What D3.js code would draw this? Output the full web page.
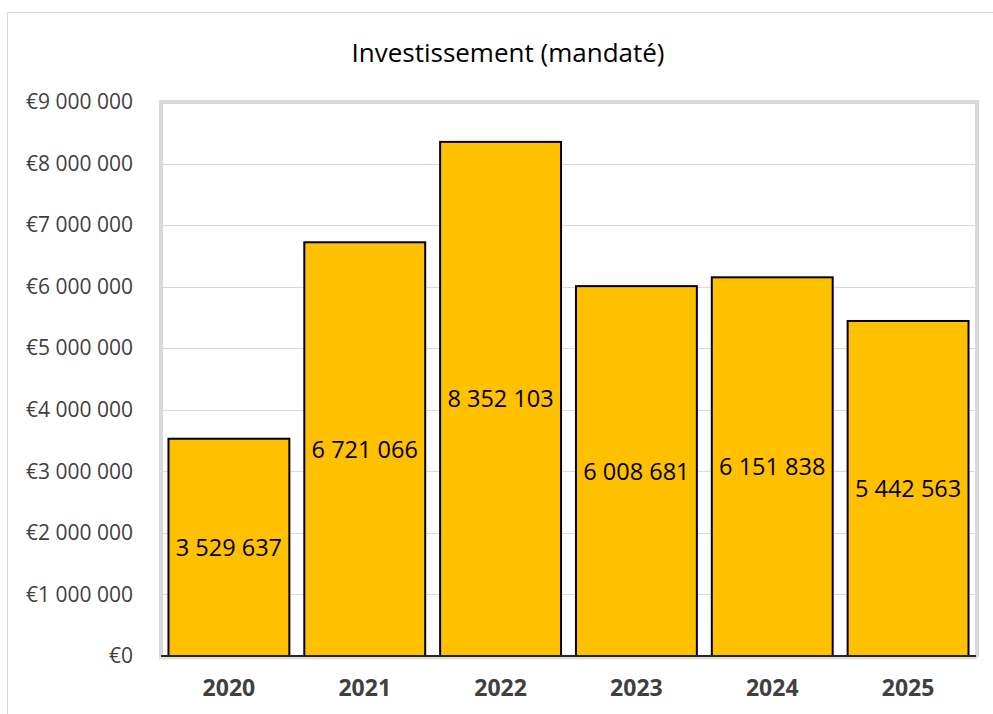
<!DOCTYPE html>
<html>
<head>
<meta charset="utf-8">
<script src="https://cdn.jsdelivr.net/npm/d3@7"></script>
<style>
  body { margin: 0; background: #fff; }
  svg { display: block; font-family: "Open Sans", "Noto Sans", sans-serif; }
</style>
</head>
<body>
<svg id="chart" width="993" height="714"></svg>
<script>
const years = ['2020', '2021', '2022', '2023', '2024', '2025'];
const amounts = [3529637, 6721066, 8352103, 6008681, 6151838, 5442563];
const yTicks = [0, 1000000, 2000000, 3000000, 4000000, 5000000, 6000000, 7000000, 8000000, 9000000];
const title = 'Investissement (mandaté)';

const width = 993;
const height = 714;
const plot = { left: 161, right: 977, top: 102, bottom: 656 };

const svg = d3.select('#chart');

// outer chart frame (cut at the right/bottom edges)
svg.append('rect')
    .attr('x', 7.5).attr('y', 12.5)
    .attr('width', width + 10).attr('height', height + 10)
    .attr('fill', '#fff')
    .attr('stroke', '#d9d9d9')
    .attr('stroke-width', 1);

const fmt = v => d3.format(',')(v).replace(/,/g, ' ');

const x = d3.scaleBand()
    .domain(years)
    .range([plot.left, plot.right - 1])
    .paddingInner(0.11)
    .paddingOuter(0.055);

const y = d3.scaleLinear()
    .domain([0, 9000000])
    .range([plot.bottom, plot.top]);

// gridlines
svg.append('g')
    .selectAll('line')
    .data(yTicks.slice(1))
    .join('line')
    .attr('x1', plot.left).attr('x2', plot.right)
    .attr('y1', d => Math.round(y(d)) + 0.5)
    .attr('y2', d => Math.round(y(d)) + 0.5)
    .attr('stroke', '#d9d9d9')
    .attr('stroke-width', 1);

// plot area border
svg.append('path')
    .attr('d', `M${plot.left},${plot.bottom + 1}V${plot.top}H${plot.right}V${plot.bottom + 1}`)
    .attr('fill', 'none')
    .attr('stroke', '#d9d9d9')
    .attr('stroke-width', 4);

svg.append('line')
    .attr('x1', plot.left - 2).attr('x2', plot.right)
    .attr('y1', plot.bottom + 2).attr('y2', plot.bottom + 2)
    .attr('stroke', '#e0e0e0').attr('stroke-width', 3);

// y axis labels
const yAxis = d3.axisLeft(y)
    .tickValues(yTicks)
    .tickSize(0)
    .tickPadding(0)
    .tickFormat(d => '€' + fmt(d));

svg.append('g')
    .attr('transform', `translate(${133},0)`)
    .call(yAxis)
    .call(g => g.select('.domain').remove())
    .selectAll('text')
    .attr('font-family', '"Open Sans", sans-serif')
    .attr('font-size', 21)
    .attr('fill', '#404040');

// bars
svg.append('g')
    .selectAll('rect')
    .data(amounts)
    .join('rect')
    .attr('x', (d, i) => x(years[i]))
    .attr('y', d => y(d))
    .attr('width', x.bandwidth())
    .attr('height', d => plot.bottom - y(d))
    .attr('fill', '#ffc000')
    .attr('stroke', '#000')
    .attr('stroke-width', 2);

// axis line
svg.append('line')
    .attr('x1', plot.left).attr('x2', plot.right - 1)
    .attr('y1', plot.bottom).attr('y2', plot.bottom)
    .attr('stroke', '#262626').attr('stroke-width', 2);

// value labels, centred in bars
svg.append('g')
    .selectAll('text')
    .data(amounts)
    .join('text')
    .attr('x', (d, i) => x(years[i]) + x.bandwidth() / 2)
    .attr('y', d => (y(d) + plot.bottom) / 2)
    .attr('dy', '0.36em')
    .attr('text-anchor', 'middle')
    .attr('font-size', 23.5)
    .attr('fill', '#000')
    .text(d => fmt(d));

// x axis labels
const xAxis = d3.axisBottom(x).tickSize(0).tickPadding(0);
svg.append('g')
    .attr('transform', `translate(0,${680})`)
    .call(xAxis)
    .call(g => g.select('.domain').remove())
    .selectAll('text')
    .attr('font-family', '"Open Sans", sans-serif')
    .attr('font-size', 23)
    .attr('font-weight', 'bold')
    .attr('fill', '#404040')
    .attr('dy', '0.71em');

// title
svg.append('text')
    .attr('x', 508)
    .attr('y', 62)
    .attr('text-anchor', 'middle')
    .attr('font-size', 26)
    .attr('fill', '#000')
    .text(title);
</script>
</body>
</html>
